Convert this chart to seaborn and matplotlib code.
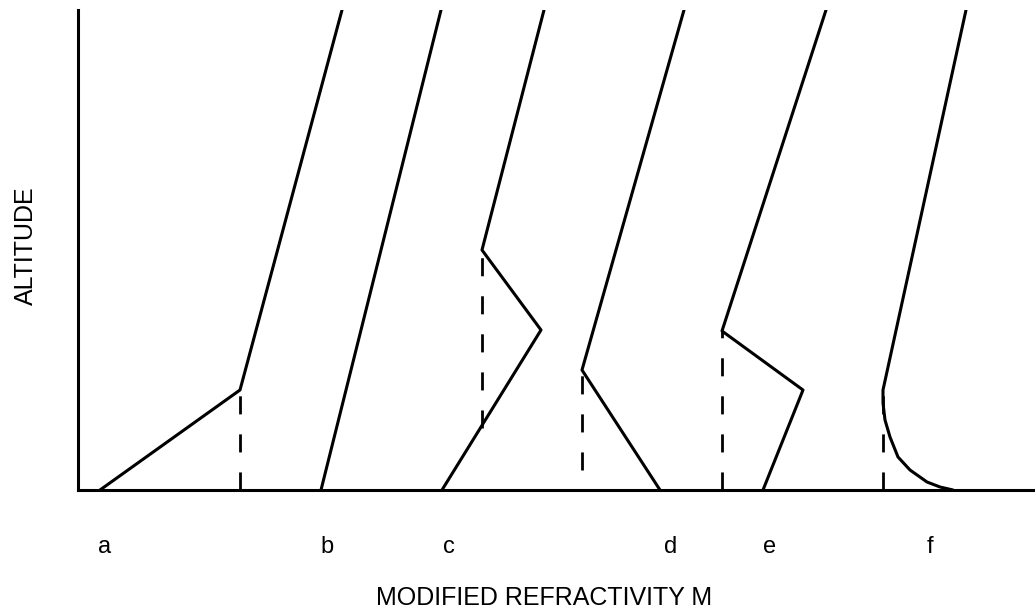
import pandas as pd
import matplotlib
matplotlib.use("Agg")
import matplotlib.pyplot as plt
import seaborn as sns

# profile corners (M offset, altitude), bottom to top
a_m = [22, 162, 264]
a_alt = [0, 100, 480]
b_m = [243, 363]
b_alt = [0, 480]
c_m = [364, 463, 404, 466]
c_alt = [0, 160, 240, 480]
d_m = [582, 504, 606]
d_alt = [0, 120, 480]
e_m = [685, 725, 644, 748]
e_alt = [0, 100, 159, 480]
f_m = [875, 862, 849, 832, 820, 812, 807, 805, 805, 888]
f_alt = [0, 3, 8, 20, 33, 53, 70, 87, 100, 480]

# dashed reference lines: x position, top, bottom
dash_m = [162, 404, 504, 644, 805]
dash_top = [100, 240, 120, 159, 100]
dash_bottom = [0, 62, 20, 0, 0]

tick_pos = [27, 249, 371, 593, 692, 852]
tick_labels = ["a", "b", "c", "d", "e", "f"]

profiles = {"a": (a_m, a_alt), "b": (b_m, b_alt), "c": (c_m, c_alt),
            "d": (d_m, d_alt), "e": (e_m, e_alt), "f": (f_m, f_alt)}
rows = []
for name, (ms, alts) in profiles.items():
    for i, (m, h) in enumerate(zip(ms, alts)):
        rows.append({"curve": name, "order": i, "M": m, "alt": h})
df = pd.DataFrame(rows)

sns.set_style("white")
plt.rcParams["font.family"] = ["Liberation Sans", "DejaVu Sans"]
plt.rcParams["text.color"] = "black"
plt.rcParams["xtick.color"] = "black"

fig = plt.figure(figsize=(10.35, 6.15), dpi=100)
ax = fig.add_axes([78 / 1035, 125 / 615, 957 / 1035, 480 / 615])

sns.lineplot(data=df, x="M", y="alt", units="curve", estimator=None,
             sort=False, color="black", linewidth=2.2, ax=ax)

ax.vlines(dash_m, dash_bottom, dash_top, colors="black", linewidth=2.0,
          linestyles=[(0, (6.5, 7.2))])

ax.set_xlim(0, 957)
ax.set_ylim(0, 480)
ax.set_xticks(tick_pos)
ax.set_xticklabels(tick_labels, fontsize=17)
ax.set_yticks([])
ax.tick_params(axis="x", length=0, pad=33)
ax.set_xlabel("")
ax.set_ylabel("")

for side in ["top", "right"]:
    ax.spines[side].set_visible(False)
for side in ["left", "bottom"]:
    ax.spines[side].set_linewidth(2.2)
    ax.spines[side].set_color("black")

fig.text(544 / 1035, 1 - 598 / 615, "MODIFIED REFRACTIVITY M", fontsize=18,
         ha="center", va="center")
fig.text(26 / 1035, 1 - 246 / 615, "ALTITUDE", fontsize=18, rotation=90,
         ha="center", va="center")

fig.savefig("out.png", dpi=100)
